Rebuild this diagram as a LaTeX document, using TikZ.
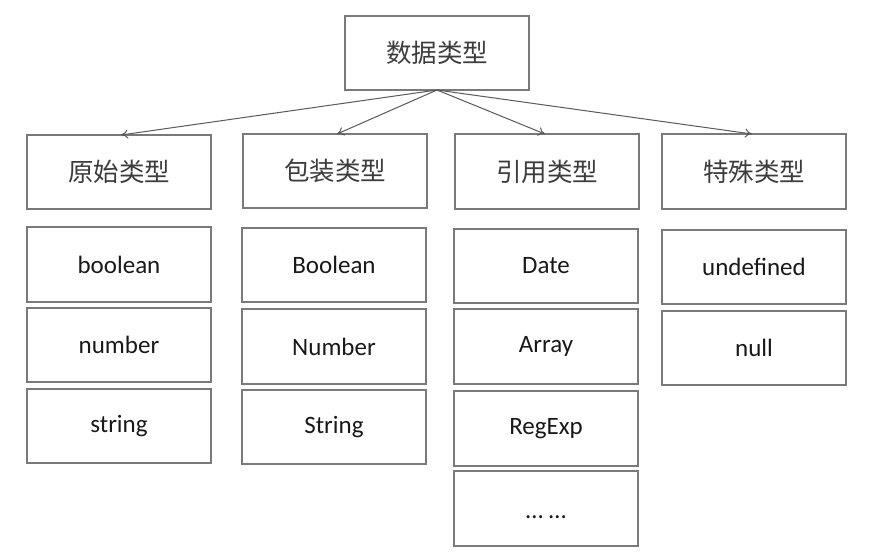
\documentclass[tikz,border=0pt]{standalone}
\usepackage{fontspec}
\setmainfont{Carlito}
\newfontfamily\cjk{Noto Sans CJK SC}
\usetikzlibrary{arrows.meta}
\definecolor{boxline}{HTML}{7A7A7A}
\definecolor{arrline}{HTML}{5A5A5A}
\definecolor{cjktext}{HTML}{3C3C3C}
\begin{document}
\begin{tikzpicture}[x=1pt,y=-1pt,
  tbox/.style={draw=boxline,line width=1.4pt,rectangle,inner sep=0pt},
  cjklabel/.style={font=\cjk\fontsize{25.5}{28}\selectfont,text=cjktext},
  latlabel/.style={font=\fontsize{25}{28}\selectfont,text=black!90},
  conn/.style={draw=arrline,line width=1pt,-{To[length=7pt,width=9pt]}}]
\useasboundingbox (0,0) rectangle (870,552);
\fill[white] (0,0) rectangle (870,552);
\draw[tbox] (345,16) rectangle (529,90);
\node[cjklabel] (root) at (437,53) {数据类型};
\coordinate (root-s) at (437,90);
% categories
\draw[tbox] (27,135) rectangle (211,209);
\node[cjklabel] (c1) at (119,172) {原始类型};
\coordinate (c1-n) at (121,135);
\draw[tbox] (243,134) rectangle (427,208);
\node[cjklabel] (c2) at (335,171) {包装类型};
\coordinate (c2-n) at (337,134);
\draw[tbox] (455,134) rectangle (639,209);
\node[cjklabel] (c3) at (547,171.5) {引用类型};
\coordinate (c3-n) at (545,134);
\draw[tbox] (662,134) rectangle (846,209);
\node[cjklabel] (c4) at (754,171.5) {特殊类型};
\coordinate (c4-n) at (752,134);
% arrows
\draw[conn] (root-s) -- (c1-n);
\draw[conn] (root-s) -- (c2-n);
\draw[conn] (root-s) -- (c3-n);
\draw[conn] (root-s) -- (c4-n);
% column 1
\draw[tbox] (27,227) rectangle (211,302);
\node[latlabel] (p1) at (119,264.5) {boolean};
\draw[tbox] (27,308) rectangle (211,382);
\node[latlabel] (p2) at (119,345) {number};
\draw[tbox] (27,389) rectangle (211,463);
\node[latlabel] (p3) at (119,426) {string};
% column 2
\draw[tbox] (242,228) rectangle (426,302);
\node[latlabel] (w1) at (334,265) {Boolean};
\draw[tbox] (242,309) rectangle (426,384);
\node[latlabel] (w2) at (334,346.5) {Number};
\draw[tbox] (242,390) rectangle (426,464);
\node[latlabel] (w3) at (334,427) {String};
% column 3
\draw[tbox] (454,229) rectangle (638,303);
\node[latlabel] (r1) at (546,266) {Date};
\draw[tbox] (454,309) rectangle (638,384);
\node[latlabel] (r2) at (546,346.5) {Array};
\draw[tbox] (454,391) rectangle (638,466);
\node[latlabel] (r3) at (546,428.5) {RegExp};
\draw[tbox] (454,471) rectangle (638,546);
\node[latlabel] (r4) at (546,517) {\ldots\ \ldots};
% column 4
\draw[tbox] (662,230) rectangle (846,304);
\node[latlabel] (s1) at (754,267) {undefined};
\draw[tbox] (662,311) rectangle (846,385);
\node[latlabel] (s2) at (754,348) {null};
\end{tikzpicture}
\end{document}
